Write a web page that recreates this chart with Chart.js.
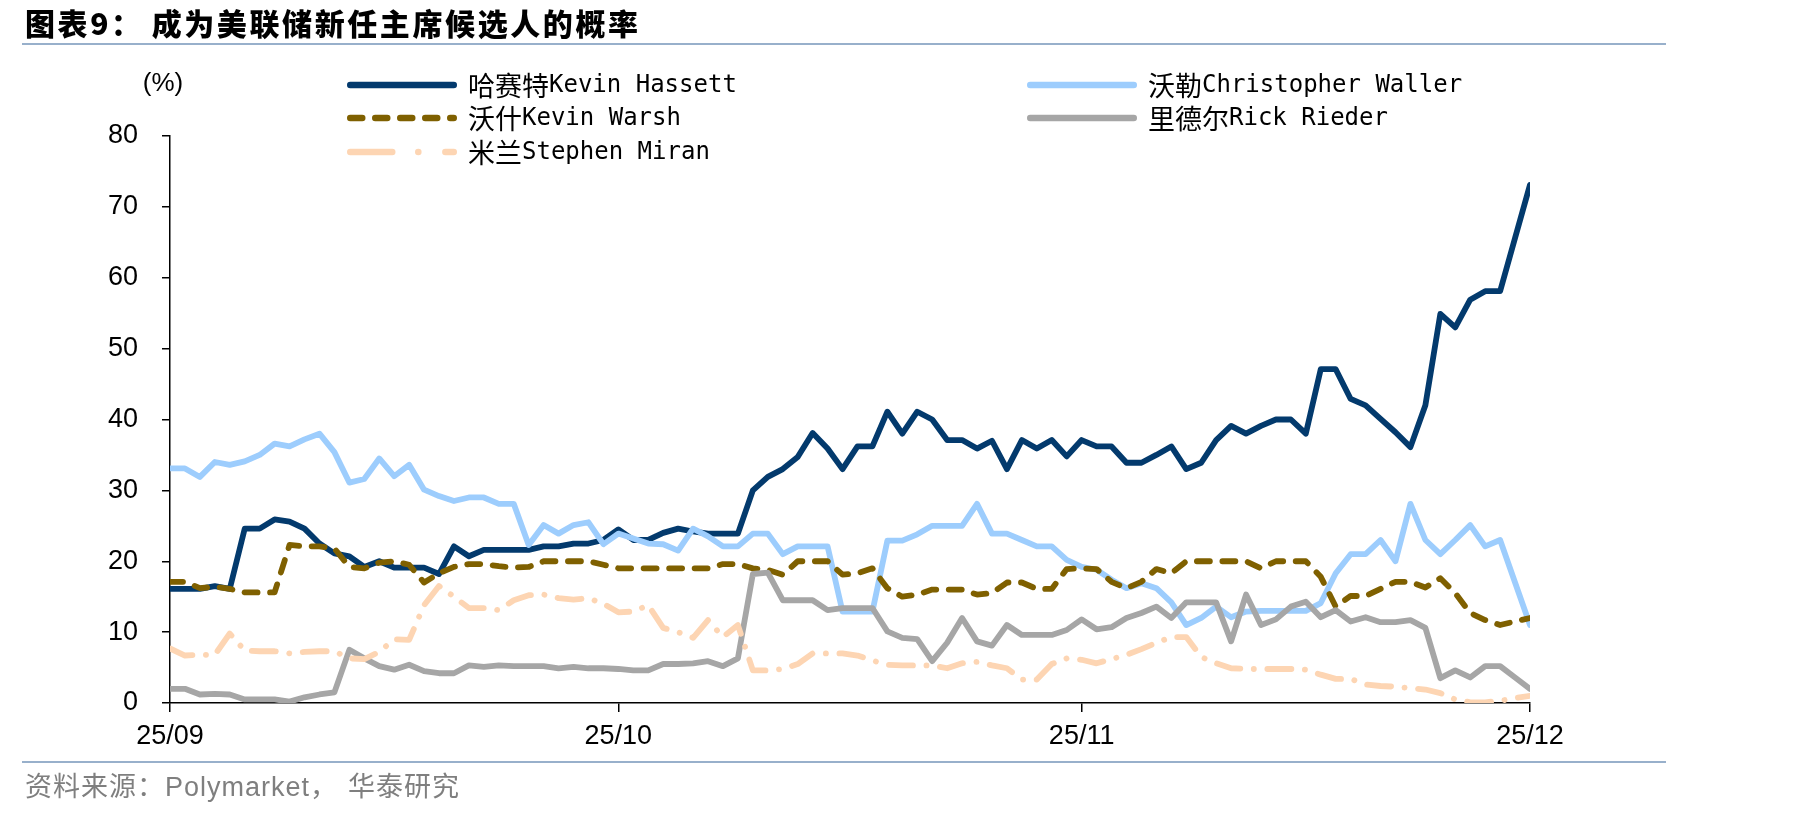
<!DOCTYPE html>
<html>
<head>
<meta charset="utf-8">
<script src="https://cdn.jsdelivr.net/npm/chart.js@4.4.0/dist/chart.umd.min.js"></script>
<style>
html,body{margin:0;padding:0;background:#fff;}
#wrap{position:relative;width:1819px;height:816px;overflow:hidden;background:#fff;}
#c{position:absolute;left:0;top:0;}
#title{position:absolute;left:25px;top:6px;font-family:"Noto Sans CJK SC";font-weight:900;font-size:30px;line-height:32px;letter-spacing:2.6px;color:#000;white-space:nowrap;}
#title .gap{display:inline-block;width:8px;}
.rule{position:absolute;left:22px;width:1644px;height:2px;background:#98b0cb;}
#src{position:absolute;left:25px;top:772px;font-family:"Liberation Sans","Noto Sans CJK SC";font-size:27px;line-height:30px;letter-spacing:1px;color:#7f7f7f;white-space:nowrap;}
#src .gap{display:inline-block;width:10px;}
</style>
</head>
<body>
<div id="wrap">
  <canvas id="c" width="1819" height="816"></canvas>
  <div id="title">图表9：<span class="gap"></span>成为美联储新任主席候选人的概率</div>
  <div class="rule" style="top:43px;"></div>
  <div class="rule" style="top:761px;"></div>
  <div id="src">资料来源：Polymarket，<span class="gap"></span>华泰研究</div>
</div>
<script>
// ---- data (daily, 2025-09-01 .. 2025-12-01), probability in % ----
const xTickPos = [0, 30, 61, 91];
const xTickLabels = ['25/09', '25/10', '25/11', '25/12'];
const yUnitLabel = '(%)';

const seriesNames = [
  '哈赛特Kevin Hassett',
  '沃勒Christopher Waller',
  '沃什Kevin Warsh',
  '里德尔Rick Rieder',
  '米兰Stephen Miran'
];

const hassett = [16.1,16.1,16.1,16.5,16.1,24.6,24.6,25.9,25.6,24.6,22.5,21.1,20.7,19.2,20.0,19.1,19.1,19.1,18.2,22.1,
  20.7,21.6,21.6,21.6,21.6,22.1,22.1,22.5,22.5,23.0,24.5,23.0,23.0,24.0,24.6,24.2,23.9,23.9,23.9,30.0,
  31.9,33.0,34.7,38.1,35.9,33.0,36.2,36.2,41.1,38.0,41.1,40.0,37.1,37.1,35.9,37.0,33.0,37.1,35.9,37.1,
  34.8,37.1,36.2,36.2,33.9,33.9,35.0,36.2,33.0,33.9,37.1,39.1,38.0,39.1,40.0,40.0,38.0,47.1,47.1,42.9,
  42.0,40.1,38.2,36.1,42.0,54.9,53.0,56.9,58.1,58.1,65.6,73.1];

const waller = [33.1,33.1,31.9,34.0,33.6,34.1,35.0,36.6,36.2,37.2,38.0,35.4,31.1,31.6,34.5,32.0,33.6,30.1,29.2,28.5,
  29.0,29.0,28.1,28.1,22.3,25.1,23.9,25.1,25.5,22.4,23.9,23.2,22.5,22.4,21.5,24.6,23.5,22.1,22.1,23.9,
  23.9,21.0,22.1,22.1,22.1,12.9,12.9,12.9,22.9,22.9,23.8,25.0,25.0,25.0,28.1,23.9,23.9,23.0,22.1,22.1,
  20.2,19.2,18.8,17.4,16.2,16.9,16.2,14.2,11.0,12.0,13.6,12.1,12.9,13.0,13.0,13.0,13.0,14.1,18.3,21.0,
  21.0,23.0,20.0,28.1,23.0,21.0,23.0,25.1,22.1,23.0,17.0,11.0];

const warsh = [17.1,17.1,16.2,16.4,16.1,15.6,15.6,15.6,22.3,22.1,22.1,21.8,19.2,19.0,19.8,20.0,19.5,17.0,18.3,19.2,
  19.6,19.6,19.3,19.1,19.2,20.0,20.0,20.0,20.0,19.5,19.0,19.0,19.0,19.0,19.0,19.0,19.0,19.6,19.6,19.0,
  18.8,18.1,20.0,20.0,20.0,18.1,18.3,19.0,16.2,15.0,15.3,16.0,16.0,16.0,15.3,15.5,17.0,17.0,16.1,16.1,
  18.9,19.0,18.9,17.1,16.2,17.1,18.9,18.3,20.0,20.0,20.0,20.0,20.0,19.0,20.0,20.0,20.0,17.8,13.6,15.1,
  15.1,16.1,17.1,17.1,16.3,17.6,15.5,12.7,11.7,11.0,11.5,12.0];

const rieder = [2.0,2.0,1.2,1.3,1.2,0.5,0.5,0.5,0.2,0.8,1.2,1.5,7.5,6.3,5.2,4.7,5.4,4.5,4.2,4.2,
  5.3,5.1,5.3,5.2,5.2,5.2,4.9,5.1,4.9,4.9,4.8,4.6,4.6,5.5,5.5,5.6,5.9,5.2,6.3,18.2,
  18.4,14.5,14.5,14.5,13.1,13.4,13.4,13.4,10.1,9.2,9.0,5.9,8.5,12.0,8.7,8.1,11.0,9.6,9.6,9.6,
  10.3,11.8,10.4,10.7,12.0,12.7,13.6,12.0,14.2,14.2,14.2,8.7,15.3,11.0,11.8,13.6,14.3,12.1,13.1,11.5,
  12.1,11.4,11.4,11.7,10.6,3.5,4.6,3.6,5.2,5.2,3.6,2.0];

const miran = [7.7,6.7,6.8,6.8,9.8,7.4,7.3,7.3,7.0,7.2,7.3,7.3,6.3,6.2,7.2,9.0,8.9,13.8,16.5,15.0,
  13.4,13.4,13.1,14.5,15.2,15.3,14.8,14.6,14.8,14.0,12.8,12.9,13.8,10.6,10.0,9.2,11.7,9.3,11.0,4.6,
  4.6,4.8,5.5,7.0,7.0,7.0,6.7,6.0,5.4,5.3,5.3,5.3,4.9,5.6,5.8,5.3,4.9,3.3,3.3,5.5,
  6.3,6.1,5.6,6.2,6.8,7.6,8.5,9.3,9.3,6.5,5.6,4.9,4.8,4.8,4.8,4.8,4.7,4.0,3.4,3.4,
  2.6,2.4,2.3,2.1,1.9,1.4,0.5,0.1,0.1,0.3,0.7,1.0];

const seriesValues = [hassett, waller, warsh, rieder, miran];

// ---- styles ----
const colors = ['#033a6d', '#9dcdfd', '#7f6000', '#a6a6a6', '#fdd5b3'];
const plotDash = [[], [], [13, 12.5], [], [24, 13.5, 0.1, 13.5]];
const legendDash = [[], [], [12, 13], [], [42, 26, 0.1, 27]];

const toPoints = arr => arr.map((v, i) => ({x: i, y: v}));

const datasets = seriesNames.map((name, i) => ({
  label: name,
  data: toPoints(seriesValues[i]),
  borderColor: colors[i],
  backgroundColor: colors[i],
  borderWidth: 5.8,
  borderDash: plotDash[i],
  borderCapStyle: 'round',
  borderJoinStyle: 'round',
  pointRadius: 0,
  pointHoverRadius: 0,
  tension: 0,
  fill: false,
  order: seriesNames.length - i,
  legendDash: legendDash[i]
}));

const legendPlugin = {
  id: 'customLegend',
  afterDraw(chart) {
    const ctx = chart.ctx;
    const cols = [347, 1027];
    const rows = [85, 118, 152];
    const lineLen = 110;
    const lw = 6.5;
    chart.data.datasets.forEach((ds, i) => {
      const x = cols[i % 2];
      const y = rows[Math.floor(i / 2)];
      ctx.save();
      ctx.strokeStyle = ds.borderColor;
      ctx.lineWidth = lw;
      ctx.lineCap = 'round';
      ctx.setLineDash(ds.legendDash || []);
      ctx.beginPath();
      ctx.moveTo(x + lw / 2, y);
      ctx.lineTo(x + lineLen - lw / 2, y);
      ctx.stroke();
      ctx.setLineDash([]);
      const m = ds.label.match(/^([^\x00-\x7f]+)(.*)$/);
      let tx = x + lineLen + 11;
      ctx.fillStyle = '#000';
      ctx.textBaseline = 'middle';
      ctx.textAlign = 'left';
      ctx.font = '27px "Noto Sans CJK SC"';
      ctx.fillText(m[1], tx, y + 1);
      tx += ctx.measureText(m[1]).width;
      ctx.font = '24px "DejaVu Sans Mono"';
      ctx.fillText(m[2], tx, y + 1);
      ctx.restore();
    });
    ctx.save();
    ctx.fillStyle = '#000';
    ctx.font = '26px "Liberation Sans"';
    ctx.textAlign = 'center';
    ctx.textBaseline = 'middle';
    ctx.fillText(yUnitLabel, 163, 84);
    ctx.restore();
  }
};

const tickFont = {family: '"Liberation Sans", Arial, sans-serif', size: 27};

new Chart(document.getElementById('c'), {
  type: 'line',
  data: {datasets},
  options: {
    responsive: false,
    animation: false,
    devicePixelRatio: 1,
    layout: {padding: {left: 0, right: 289, top: 136, bottom: 53}},
    plugins: {legend: {display: false}, tooltip: {enabled: false}, title: {display: false}},
    scales: {
      x: {
        type: 'linear',
        min: 0,
        max: 91,
        afterBuildTicks: s => { s.ticks = xTickPos.map(v => ({value: v})); },
        afterFit: s => { s.height = 60; },
        ticks: {
          autoSkip: false,
          maxRotation: 0,
          minRotation: 0,
          padding: 8,
          color: '#000',
          font: tickFont,
          callback: v => xTickLabels[xTickPos.indexOf(v)]
        },
        grid: {display: true, drawOnChartArea: false, drawTicks: true, tickLength: 9, color: '#000', lineWidth: 1.5},
        border: {display: true, color: '#000', width: 1.5}
      },
      y: {
        min: 0,
        max: 80,
        afterFit: s => { s.width = 170; },
        ticks: {stepSize: 10, padding: 24, color: '#000', font: tickFont},
        grid: {display: true, drawOnChartArea: false, drawTicks: true, tickLength: 8, color: '#000', lineWidth: 1.5},
        border: {display: true, color: '#000', width: 1.5}
      }
    }
  },
  plugins: [legendPlugin]
});
</script>
</body>
</html>
